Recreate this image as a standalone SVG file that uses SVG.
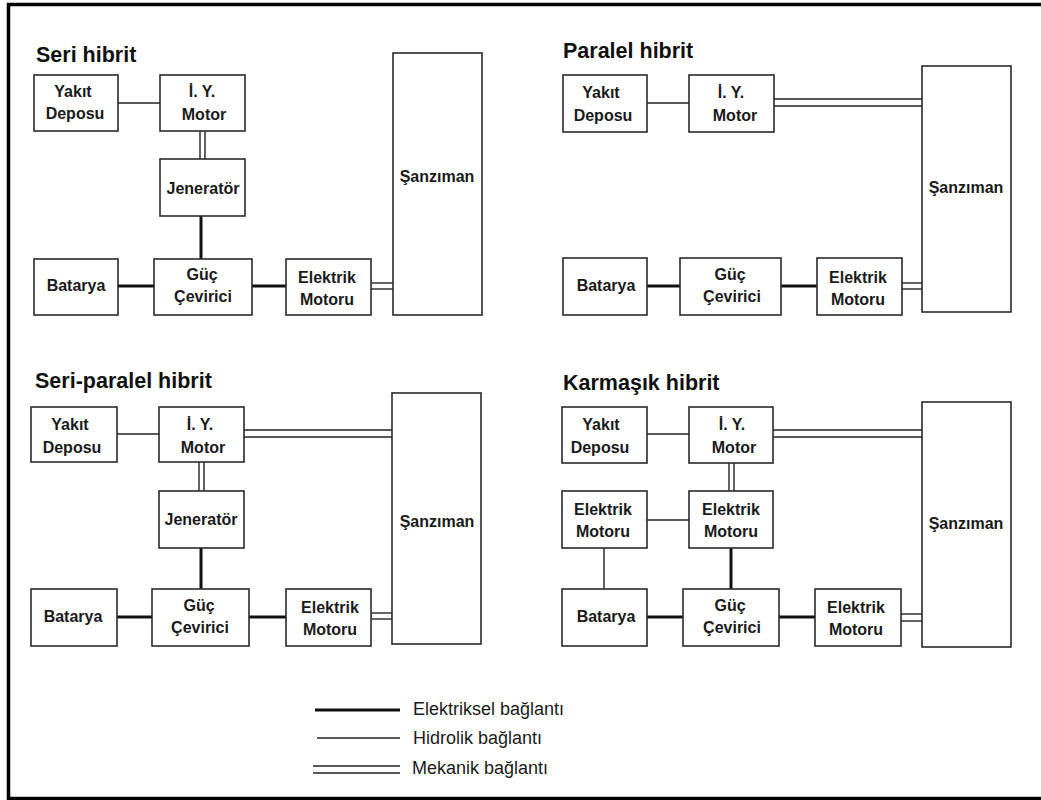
<svg xmlns="http://www.w3.org/2000/svg" width="1041" height="800" viewBox="0 0 1041 800">
  <style>
    .box { fill: #fff; stroke: #2a2a2a; stroke-width: 1.6; }
    .lbl { font-family: "Liberation Sans", Arial, sans-serif; font-weight: bold; font-size: 16px; fill: #1a1a1a; text-anchor: middle; }
    .ttl { font-family: "Liberation Sans", Arial, sans-serif; font-weight: bold; font-size: 21.5px; fill: #111; }
    .leg { font-family: "Liberation Sans", Arial, sans-serif; font-size: 18px; fill: #1a1a1a; }
    .hyd { stroke: #222; stroke-width: 1.4; fill: none; }
    .ele { stroke: #111; stroke-width: 3; fill: none; }
    .mek { stroke: #222; stroke-width: 1.4; fill: none; }
  </style>

  <rect x="0" y="0" width="1041" height="800" fill="#fff"/>
  <!-- outer frame -->
  <rect x="8.5" y="4.5" width="1040" height="794" fill="none" stroke="#000" stroke-width="3.5"/>

  <!-- ===== Seri hibrit ===== -->
  <text class="ttl" x="36" y="62">Seri hibrit</text>
  <g id="connectors-seri">
    <line class="hyd" x1="118" y1="103" x2="160" y2="103"/>
    <line class="mek" x1="200" y1="131" x2="200" y2="159"/>
    <line class="mek" x1="205" y1="131" x2="205" y2="159"/>
    <line class="ele" x1="201" y1="216" x2="201" y2="259"/>
    <line class="ele" x1="118" y1="286" x2="154" y2="286"/>
    <line class="ele" x1="252" y1="286" x2="286" y2="286"/>
    <line class="mek" x1="371" y1="283" x2="393" y2="283"/>
    <line class="mek" x1="371" y1="289" x2="393" y2="289"/>
  </g>
  <g id="s-yakit"><rect class="box" x="34" y="75" width="84" height="56"/><text class="lbl" x="73" y="97">Yakıt</text><text class="lbl" x="75" y="119">Deposu</text></g>
  <g id="s-iy"><rect class="box" x="160" y="75" width="85" height="56"/><text class="lbl" x="202" y="97">İ. Y.</text><text class="lbl" x="204" y="120">Motor</text></g>
  <g id="s-jen"><rect class="box" x="160" y="159" width="85" height="57"/><text class="lbl" x="203" y="194">Jeneratör</text></g>
  <g id="s-bat"><rect class="box" x="34" y="259" width="84" height="56"/><text class="lbl" x="76" y="291">Batarya</text></g>
  <g id="s-guc"><rect class="box" x="154" y="259" width="98" height="56"/><text class="lbl" x="202" y="280">Güç</text><text class="lbl" x="203" y="302">Çevirici</text></g>
  <g id="s-elek"><rect class="box" x="286" y="259" width="85" height="56"/><text class="lbl" x="327" y="283">Elektrik</text><text class="lbl" x="327" y="305">Motoru</text></g>
  <g id="s-sanz"><rect class="box" x="393" y="53" width="89" height="262"/><text class="lbl" x="437" y="182">Şanzıman</text></g>

  <!-- ===== Paralel hibrit ===== -->
  <text class="ttl" x="563" y="58">Paralel hibrit</text>
  <g id="connectors-paralel">
    <line class="hyd" x1="647" y1="103" x2="689" y2="103"/>
    <line class="mek" x1="774" y1="99" x2="922" y2="99"/>
    <line class="mek" x1="774" y1="106" x2="922" y2="106"/>
    <line class="ele" x1="647" y1="286" x2="680" y2="286"/>
    <line class="ele" x1="781" y1="286" x2="817" y2="286"/>
    <line class="mek" x1="902" y1="283" x2="922" y2="283"/>
    <line class="mek" x1="902" y1="289" x2="922" y2="289"/>
  </g>
  <g id="p-yakit"><rect class="box" x="563" y="75" width="84" height="57"/><text class="lbl" x="601" y="98">Yakıt</text><text class="lbl" x="603" y="121">Deposu</text></g>
  <g id="p-iy"><rect class="box" x="689" y="75" width="85" height="57"/><text class="lbl" x="731" y="98">İ. Y.</text><text class="lbl" x="735" y="121">Motor</text></g>
  <g id="p-bat"><rect class="box" x="563" y="258" width="84" height="57"/><text class="lbl" x="606" y="291">Batarya</text></g>
  <g id="p-guc"><rect class="box" x="680" y="258" width="101" height="57"/><text class="lbl" x="730" y="280">Güç</text><text class="lbl" x="732" y="302">Çevirici</text></g>
  <g id="p-elek"><rect class="box" x="817" y="258" width="85" height="57"/><text class="lbl" x="858" y="283">Elektrik</text><text class="lbl" x="858" y="305">Motoru</text></g>
  <g id="p-sanz"><rect class="box" x="922" y="66" width="89" height="246"/><text class="lbl" x="966" y="193">Şanzıman</text></g>

  <!-- ===== Seri-paralel hibrit ===== -->
  <text class="ttl" x="35" y="388">Seri-paralel hibrit</text>
  <g id="connectors-seriparalel">
    <line class="hyd" x1="117" y1="434" x2="159" y2="434"/>
    <line class="mek" x1="244" y1="430" x2="392" y2="430"/>
    <line class="mek" x1="244" y1="437" x2="392" y2="437"/>
    <line class="mek" x1="199" y1="462" x2="199" y2="491"/>
    <line class="mek" x1="204" y1="462" x2="204" y2="491"/>
    <line class="ele" x1="201" y1="548" x2="201" y2="589"/>
    <line class="ele" x1="117" y1="617" x2="152" y2="617"/>
    <line class="ele" x1="249" y1="617" x2="286" y2="617"/>
    <line class="mek" x1="371" y1="613" x2="392" y2="613"/>
    <line class="mek" x1="371" y1="619" x2="392" y2="619"/>
  </g>
  <g id="sp-yakit"><rect class="box" x="31" y="407" width="86" height="55"/><text class="lbl" x="70" y="430">Yakıt</text><text class="lbl" x="72" y="453">Deposu</text></g>
  <g id="sp-iy"><rect class="box" x="159" y="407" width="85" height="55"/><text class="lbl" x="200" y="430">İ. Y.</text><text class="lbl" x="203" y="453">Motor</text></g>
  <g id="sp-jen"><rect class="box" x="159" y="491" width="85" height="57"/><text class="lbl" x="201" y="525">Jeneratör</text></g>
  <g id="sp-bat"><rect class="box" x="31" y="589" width="86" height="57"/><text class="lbl" x="73" y="622">Batarya</text></g>
  <g id="sp-guc"><rect class="box" x="152" y="589" width="97" height="57"/><text class="lbl" x="199" y="611">Güç</text><text class="lbl" x="200" y="633">Çevirici</text></g>
  <g id="sp-elek"><rect class="box" x="286" y="589" width="85" height="57"/><text class="lbl" x="330" y="613">Elektrik</text><text class="lbl" x="330" y="635">Motoru</text></g>
  <g id="sp-sanz"><rect class="box" x="392" y="393" width="89" height="251"/><text class="lbl" x="437" y="527">Şanzıman</text></g>

  <!-- ===== Karmaşık hibrit ===== -->
  <text class="ttl" x="563" y="390">Karmaşık hibrit</text>
  <g id="connectors-karmasik">
    <line class="hyd" x1="647" y1="434" x2="689" y2="434"/>
    <line class="mek" x1="773" y1="430" x2="922" y2="430"/>
    <line class="mek" x1="773" y1="437" x2="922" y2="437"/>
    <line class="mek" x1="729" y1="463" x2="729" y2="491"/>
    <line class="mek" x1="734" y1="463" x2="734" y2="491"/>
    <line class="hyd" x1="647" y1="520" x2="689" y2="520"/>
    <line class="hyd" x1="604" y1="548" x2="604" y2="589"/>
    <line class="ele" x1="731" y1="548" x2="731" y2="589"/>
    <line class="ele" x1="647" y1="617" x2="683" y2="617"/>
    <line class="ele" x1="779" y1="617" x2="815" y2="617"/>
    <line class="mek" x1="901" y1="614" x2="922" y2="614"/>
    <line class="mek" x1="901" y1="621" x2="922" y2="621"/>
  </g>
  <g id="k-yakit"><rect class="box" x="562" y="407" width="85" height="56"/><text class="lbl" x="601" y="430">Yakıt</text><text class="lbl" x="600" y="453">Deposu</text></g>
  <g id="k-iy"><rect class="box" x="689" y="407" width="84" height="56"/><text class="lbl" x="732" y="430">İ. Y.</text><text class="lbl" x="734" y="453">Motor</text></g>
  <g id="k-elek1"><rect class="box" x="562" y="491" width="85" height="57"/><text class="lbl" x="603" y="515">Elektrik</text><text class="lbl" x="603" y="537">Motoru</text></g>
  <g id="k-elek2"><rect class="box" x="689" y="491" width="84" height="57"/><text class="lbl" x="731" y="515">Elektrik</text><text class="lbl" x="731" y="537">Motoru</text></g>
  <g id="k-bat"><rect class="box" x="562" y="589" width="85" height="57"/><text class="lbl" x="606" y="622">Batarya</text></g>
  <g id="k-guc"><rect class="box" x="683" y="589" width="96" height="57"/><text class="lbl" x="730" y="611">Güç</text><text class="lbl" x="732" y="633">Çevirici</text></g>
  <g id="k-elek3"><rect class="box" x="815" y="589" width="86" height="57"/><text class="lbl" x="856" y="613">Elektrik</text><text class="lbl" x="856" y="635">Motoru</text></g>
  <g id="k-sanz"><rect class="box" x="922" y="402" width="89" height="245"/><text class="lbl" x="966" y="529">Şanzıman</text></g>

  <!-- ===== Legend ===== -->
  <g id="legend">
    <line class="ele" x1="315" y1="710" x2="400" y2="710"/>
    <text class="leg" x="413" y="715">Elektriksel bağlantı</text>
    <line class="hyd" x1="317" y1="738" x2="400" y2="738"/>
    <text class="leg" x="413" y="744">Hidrolik bağlantı</text>
    <line class="mek" x1="313" y1="766" x2="400" y2="766"/>
    <line class="mek" x1="313" y1="773" x2="400" y2="773"/>
    <text class="leg" x="412" y="774">Mekanik bağlantı</text>
  </g>
</svg>
